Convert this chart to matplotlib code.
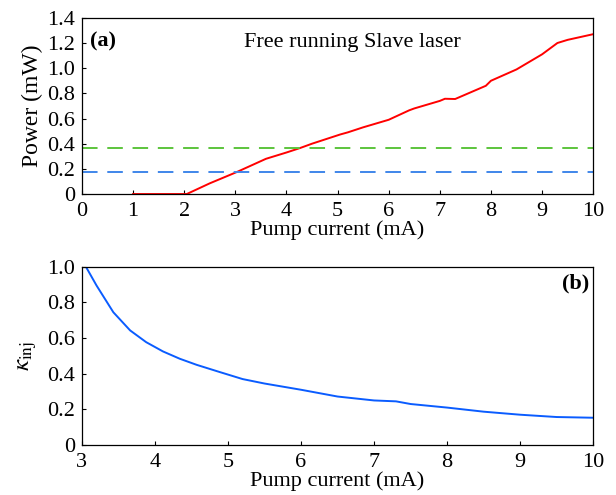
import numpy as np
import matplotlib.pyplot as plt

plt.rcParams['font.family'] = ['Liberation Serif', 'DejaVu Serif']
plt.rcParams['mathtext.fontset'] = 'stix'

# free running slave laser L-I curve
current_a = [1.0, 1.5, 2.05, 2.5, 3.03, 3.6, 4.0, 4.27, 4.5, 5.05, 5.2, 5.5, 6.0, 6.4,
             6.5, 7.0, 7.1, 7.3, 7.5, 7.9, 8.0, 8.5, 9.0, 9.3, 9.5, 10.0]
power = [0.0, 0.0, 0.0, 0.085, 0.175, 0.28, 0.33, 0.366, 0.40, 0.473, 0.49, 0.53, 0.59, 0.665,
         0.68, 0.74, 0.757, 0.755, 0.79, 0.86, 0.90, 0.99, 1.11, 1.20, 1.225, 1.27]
level_green = 0.366
level_blue = 0.175

# injection strength
current_b = [3.055, 3.2, 3.43, 3.66, 3.88, 4.11, 4.34, 4.57, 4.89, 5.2, 5.5, 6.0, 6.5, 7.0,
             7.3, 7.5, 8.0, 8.5, 9.0, 9.5, 10.0]
kappa = [1.0, 0.895, 0.745, 0.643, 0.577, 0.525, 0.484, 0.45, 0.409, 0.37, 0.345, 0.31, 0.272,
         0.25, 0.245, 0.23, 0.21, 0.187, 0.17, 0.157, 0.153]

fig = plt.figure(figsize=(6.16, 4.95), dpi=100)
ax1 = fig.add_axes([0.133, 0.608, 0.830, 0.356])
ax2 = fig.add_axes([0.133, 0.101, 0.830, 0.360])

ax1.plot(current_a, power, color='#ff0000', lw=1.4)
ax1.axhline(level_green, color='#5cc43c', lw=1.4, dashes=(8, 5))
ax1.axhline(level_blue, color='#3f86ea', lw=1.4, dashes=(8, 5))
ax1.set_xlim(0, 10)
ax1.set_ylim(0, 1.4)
ax1.set_xticks(range(0, 11))
ax1.set_yticks([0, 0.2, 0.4, 0.6, 0.8, 1.0, 1.2, 1.4])
ax1.set_yticklabels(['0', '0.2', '0.4', '0.6', '0.8', '1.0', '1.2', '1.4'])
ax1.set_xlabel('Pump current (mA)', fontsize=16, labelpad=-1)
ax1.set_ylabel('Power (mW)', fontsize=17, labelpad=3)
ax1.text(0.016, 0.92, '(a)', transform=ax1.transAxes, fontsize=16, fontweight='bold', va='top')
ax1.text(0.528, 0.86, 'Free running Slave laser', transform=ax1.transAxes, fontsize=16,
         ha='center', va='center')

ax2.plot(current_b, kappa, color='#0a5cff', lw=1.4)
ax2.set_xlim(3, 10)
ax2.set_ylim(0, 1.0)
ax2.set_yticks([0, 0.2, 0.4, 0.6, 0.8, 1.0])
ax2.set_yticklabels(['0', '0.2', '0.4', '0.6', '0.8', '1.0'])
ax2.set_xlabel('Pump current (mA)', fontsize=16, labelpad=-1)
ax2.set_ylabel(r'$\kappa_{\mathrm{inj}}$', fontsize=18, labelpad=6)
ax2.text(0.992, 0.96, '(b)', transform=ax2.transAxes, fontsize=16, fontweight='bold',
         ha='right', va='top')

for ax in (ax1, ax2):
    ax.tick_params(direction='in', length=3, labelsize=16, top=False, right=False)
    ax.tick_params(axis='x', pad=6)
    ax.tick_params(axis='y', pad=5)
    for s in ax.spines.values():
        s.set_linewidth(0.9)

fig.savefig('out.png', dpi=100)
